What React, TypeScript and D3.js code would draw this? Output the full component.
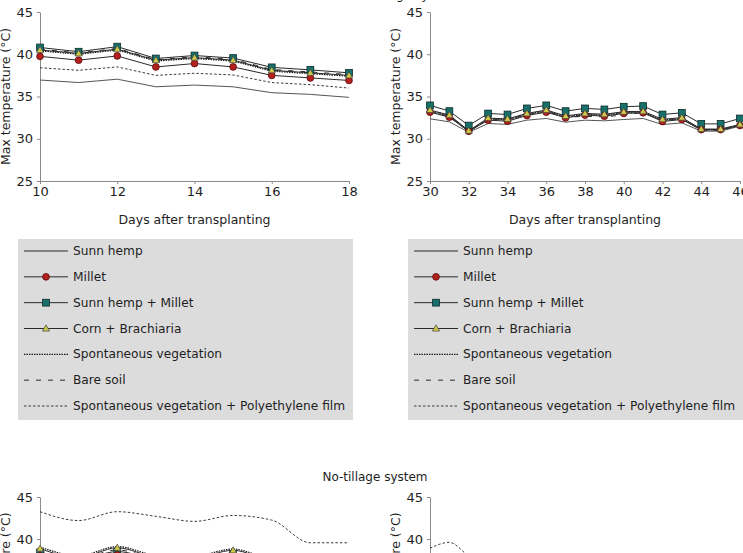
import { useEffect, useRef } from "react";
import { select, scaleLinear, axisLeft, axisBottom, line, curveLinear, curveMonotoneX, symbol, symbolTriangle } from "d3";

// days after transplanting
const daysA = [10, 11, 12, 13, 14, 15, 16, 17, 18];
const daysB = [30, 31, 32, 33, 34, 35, 36, 37, 38, 39, 40, 41, 42, 43, 44, 45, 46];
const yTicks = [25, 30, 35, 40, 45];
const xTicksA = [10, 12, 14, 16, 18];
const xTicksB = [30, 32, 34, 36, 38, 40, 42, 44, 46];

const seriesNames = [
  "Sunn hemp",
  "Millet",
  "Sunn hemp + Millet",
  "Corn + Brachiaria",
  "Spontaneous vegetation",
  "Bare soil",
  "Spontaneous vegetation + Polyethylene film",
];

// conventional tillage, days 10-18
const sunnHempA = [36.95, 36.65, 37.05, 36.15, 36.35, 36.15, 35.45, 35.25, 34.9];
const milletA = [39.75, 39.3, 39.8, 38.5, 38.9, 38.5, 37.5, 37.2, 36.9];
const sunnMilletA = [40.8, 40.3, 40.9, 39.5, 39.85, 39.55, 38.45, 38.15, 37.8];
const cornBrachA = [40.5, 40.1, 40.6, 39.3, 39.6, 39.3, 38.1, 37.8, 37.5];
const spontA = [40.4, 40.0, 40.5, 39.2, 39.5, 39.2, 38.0, 37.7, 37.4];
const bareA = [40.6, 40.15, 40.7, 39.35, 39.7, 39.4, 38.2, 37.9, 37.6];
const peA = [38.4, 38.1, 38.5, 37.5, 37.75, 37.55, 36.65, 36.4, 36.0];

// conventional tillage, days 30-46
const sunnHempB = [32.36, 32.0, 30.77, 31.8, 31.7, 32.2, 32.4, 31.96, 32.2, 32.12, 32.28, 32.4, 31.68, 31.88, 30.9, 30.9, 31.5];
const milletB = [33.15, 32.55, 30.88, 32.2, 32.08, 32.75, 33.15, 32.48, 32.8, 32.67, 33.0, 33.07, 32.04, 32.28, 31.08, 31.08, 31.56];
const sunnMilletB = [33.95, 33.27, 31.56, 32.99, 32.87, 33.59, 33.95, 33.27, 33.59, 33.47, 33.79, 33.87, 32.87, 33.07, 31.76, 31.76, 32.4];
const cornBrachB = [33.4, 32.8, 30.95, 32.45, 32.35, 33.0, 33.4, 32.7, 33.0, 32.9, 33.2, 33.25, 32.3, 32.5, 31.15, 31.15, 31.7];
const spontB = [33.3, 32.7, 30.9, 32.35, 32.25, 32.9, 33.3, 32.6, 32.9, 32.8, 33.1, 33.15, 32.2, 32.4, 31.05, 31.05, 31.6];
const bareB = [33.2, 32.6, 30.85, 32.3, 32.2, 32.85, 33.25, 32.55, 32.65, 32.6, 32.8, 33.1, 32.15, 32.35, 31.0, 31.0, 31.6];
const peB = [33.25, 32.65, 30.9, 32.3, 32.2, 32.85, 33.25, 32.55, 32.85, 32.75, 33.05, 33.1, 32.15, 32.35, 31.05, 31.05, 31.6];

// no-tillage, days 10-18
const ntSunnHempA = [38.2, 37.4, 38.3, 37.5, 37.4, 38.0, 36.8, 36.3, 36.1];
const ntMilletA = [38.0, 37.2, 38.1, 37.3, 37.2, 37.8, 36.6, 36.1, 35.9];
const ntSunnMilletA = [38.4, 37.6, 38.5, 37.7, 37.6, 38.2, 37.0, 36.5, 36.3];
const ntCornBrachA = [38.85, 37.8, 38.95, 37.9, 37.8, 38.65, 37.3, 36.8, 36.6];
const ntSpontA = [39.05, 38.0, 39.1, 38.1, 38.0, 38.8, 37.5, 37.0, 36.8];
const ntBareA = [38.6, 37.7, 38.7, 37.8, 37.7, 38.4, 37.2, 36.7, 36.5];
const ntPeA = [43.25, 42.2, 43.25, 42.7, 42.1, 42.8, 42.25, 39.55, 39.55];

// no-tillage, days 30-46
const ntSunnHempB = [36.4, 36.0, 34.6, 35.8, 35.7, 36.1, 36.4, 35.9, 36.1, 36.0, 36.3, 36.4, 35.6, 35.8, 34.7, 34.7, 35.3];
const ntMilletB = [36.7, 36.2, 34.8, 36.0, 35.9, 36.4, 36.7, 36.1, 36.4, 36.3, 36.6, 36.7, 35.9, 36.1, 35.0, 35.0, 35.5];
const ntSunnMilletB = [37.1, 36.6, 35.2, 36.5, 36.4, 36.9, 37.1, 36.6, 36.9, 36.8, 37.0, 37.1, 36.3, 36.5, 35.3, 35.3, 35.9];
const ntCornBrachB = [36.9, 36.4, 35.0, 36.3, 36.2, 36.6, 36.9, 36.4, 36.6, 36.5, 36.8, 36.9, 36.1, 36.3, 35.2, 35.2, 35.7];
const ntSpontB = [37.4, 36.8, 35.2, 36.4, 36.3, 36.8, 37.1, 36.5, 36.8, 36.7, 37.0, 37.1, 36.2, 36.4, 35.1, 35.1, 35.6];
const ntBareB = [37.2, 36.7, 35.1, 36.3, 36.2, 36.7, 37.0, 36.4, 36.7, 36.6, 36.9, 37.0, 36.1, 36.3, 35.0, 35.0, 35.5];
const ntPeB = [38.9, 39.6, 38.0, 37.0, 36.9, 37.3, 37.6, 37.0, 37.3, 37.1, 37.4, 37.6, 36.7, 36.9, 35.6, 35.6, 36.1];

const FONT = "DejaVu Sans, Verdana, sans-serif";
const INK = "#1e1e1e";

// drawing style per series (same order as seriesNames)
const styles = [
  { stroke: "#555", width: 1, dash: null, marker: null },
  { stroke: "#2a2a2a", width: 1, dash: null, marker: "circle" },
  { stroke: "#2a2a2a", width: 1, dash: null, marker: "square" },
  { stroke: "#2a2a2a", width: 1, dash: null, marker: "triangle" },
  { stroke: "#1a1a1a", width: 1.2, dash: "1.5,1", marker: null },
  { stroke: "#2a2a2a", width: 1, dash: "5,7", marker: null },
  { stroke: "#3a3a3a", width: 1, dash: "2.5,2", marker: null },
];

function Marker({ kind, x, y }) {
  if (kind === "circle")
    return <circle cx={x} cy={y} r={3.4} fill="#b3201e" stroke="#5a0c0c" strokeWidth={0.8} />;
  if (kind === "square")
    return <rect x={x - 3.4} y={y - 3.4} width={6.8} height={6.8} fill="#17706a" stroke="#0b2b28" strokeWidth={0.8} />;
  if (kind === "triangle")
    return (
      <path d={symbol(symbolTriangle, 22)()} transform={`translate(${x},${y + 0.5})`} fill="#cfc94a" stroke="#444" strokeWidth={0.7} />
    );
  return null;
}

function Axes({ x, y, xTicks, showX }) {
  const gy = useRef(null);
  const gx = useRef(null);
  useEffect(() => {
    const ya = axisLeft(y).tickValues(yTicks).tickSize(3).tickSizeOuter(0).tickPadding(4);
    const g = select(gy.current).attr("transform", `translate(${x.range()[0]},0)`).call(ya);
    g.selectAll("path, line").attr("stroke", "#8a8a8a");
    g.selectAll("text").attr("fill", INK).attr("font-size", 13).attr("font-family", FONT);
    if (showX) {
      const xa = axisBottom(x).tickValues(xTicks).tickSize(3).tickSizeOuter(0).tickPadding(3);
      const h = select(gx.current).attr("transform", `translate(0,${y.range()[0]})`).call(xa);
      h.selectAll("path, line").attr("stroke", "#8a8a8a");
      h.selectAll("text").attr("fill", INK).attr("font-size", 13).attr("font-family", FONT);
    }
  }, [x, y, xTicks, showX]);
  return (
    <g>
      <g ref={gy} />
      <g ref={gx} />
    </g>
  );
}

function Panel({ days, xTicks, xRange, yRange, data, showX, curved }) {
  const x = scaleLinear().domain([days[0], days[days.length - 1]]).range(xRange);
  const y = scaleLinear().domain([25, 45]).range(yRange);
  const gen = line<number>()
    .x((_, i) => x(days[i]))
    .y((v) => y(v))
    .curve(curved ? curveMonotoneX : curveLinear);
  const midY = (yRange[0] + yRange[1]) / 2;
  const midX = (xRange[0] + xRange[1]) / 2;
  return (
    <g>
      <Axes x={x} y={y} xTicks={xTicks} showX={showX} />
      {data.map((vals, s) => (
        <path key={s} d={gen(vals)} fill="none" stroke={styles[s].stroke} strokeWidth={styles[s].width}
          strokeDasharray={styles[s].dash || undefined} />
      ))}
      {[2, 1, 3].map((s) =>
        data[s].map((v, i) => <Marker key={`${s}-${i}`} kind={styles[s].marker} x={x(days[i])} y={y(v)} />)
      )}
      <text transform={`translate(${xRange[0] - 35},${midY}) rotate(-90)`} textAnchor="middle" dominantBaseline="central"
        fontFamily={FONT} fontSize={12.5} fill={INK}>Max temperature (°C)</text>
      {showX && (
        <text x={midX} y={224} textAnchor="middle" fontFamily={FONT} fontSize={12.5} fill={INK}>Days after transplanting</text>
      )}
    </g>
  );
}

function Legend({ x0, width }) {
  const rowY = scaleLinear().domain([0, 6]).range([251, 406]);
  return (
    <g>
      <rect x={x0} y={239} width={width} height={181} fill="#dcdcdc" />
      {seriesNames.map((name, i) => {
        const st = styles[i];
        const ly = rowY(i);
        return (
          <g key={name}>
            <line x1={x0 + 6} x2={x0 + 50} y1={ly} y2={ly} stroke={i === 0 ? "#2a2a2a" : st.stroke} strokeWidth={st.width}
              strokeDasharray={st.dash || undefined} />
            <Marker kind={st.marker} x={x0 + 28} y={ly} />
            <text x={x0 + 55} y={ly} dominantBaseline="central" fontFamily={FONT} fontSize={12.2} fill={INK}>{name}</text>
          </g>
        );
      })}
    </g>
  );
}

export default function App() {
  const convA = [sunnHempA, milletA, sunnMilletA, cornBrachA, spontA, bareA, peA];
  const convB = [sunnHempB, milletB, sunnMilletB, cornBrachB, spontB, bareB, peB];
  const noTillA = [ntSunnHempA, ntMilletA, ntSunnMilletA, ntCornBrachA, ntSpontA, ntBareA, ntPeA];
  const noTillB = [ntSunnHempB, ntMilletB, ntSunnMilletB, ntCornBrachB, ntSpontB, ntBareB, ntPeB];
  return (
    <svg width={743} height={553} style={{ position: "absolute", left: 0, top: 0, background: "#fff" }}>
      <text x={375} y={-1} textAnchor="middle" fontFamily={FONT} fontSize={12} fill={INK}>Conventional tillage system</text>
      <Panel days={daysA} xTicks={xTicksA} xRange={[40, 349]} yRange={[181, 12]} data={convA} showX />
      <Panel days={daysB} xTicks={xTicksB} xRange={[430, 740]} yRange={[181, 12]} data={convB} showX />
      <Legend x0={18} width={335} />
      <Legend x0={408} width={340} />
      <text x={375} y={481} textAnchor="middle" fontFamily={FONT} fontSize={12} fill={INK}>No-tillage system</text>
      <Panel days={daysA} xTicks={xTicksA} xRange={[40, 349]} yRange={[665, 497]} data={noTillA} curved />
      <Panel days={daysB} xTicks={xTicksB} xRange={[430, 740]} yRange={[665, 497]} data={noTillB} curved />
    </svg>
  );
}
